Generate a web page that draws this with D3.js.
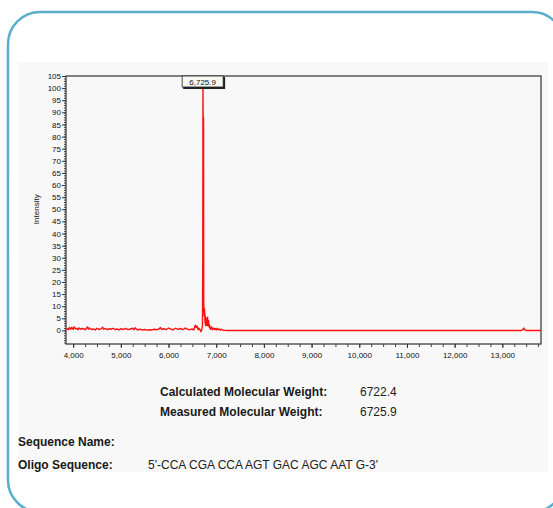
<!DOCTYPE html>
<html>
<head>
<meta charset="utf-8">
<script src="https://cdn.jsdelivr.net/npm/d3@7"></script>
<style>
  body { margin: 0; background: #fff; }
  svg { display: block; font-family: "Liberation Sans", Arial, sans-serif; }
</style>
</head>
<body>
<div id="chart"></div>
<script>
// spectrum (mass in Da, intensity in %)
const masses = [3850, 3880, 3900, 3920, 3950, 3970, 4000, 4020, 4050, 4080, 4100, 4130, 4160, 4200,
  4250, 4300, 4320, 4340, 4380, 4420, 4460, 4500, 4540, 4580, 4620, 4640, 4680, 4720, 4760,
  4800, 4840, 4880, 4920, 4960, 5000, 5050, 5100, 5150, 5200, 5250, 5280, 5300, 5350, 5400,
  5450, 5500, 5550, 5600, 5650, 5700, 5750, 5800, 5830, 5860, 5900, 5950, 6000, 6050, 6100,
  6150, 6200, 6250, 6300, 6350, 6400, 6450, 6500, 6530, 6560, 6580, 6600, 6620, 6640, 6660,
  6680, 6700, 6712, 6718, 6722, 6726, 6730, 6734, 6738, 6742, 6748, 6754, 6760, 6766, 6772,
  6778, 6784, 6790, 6796, 6802, 6808, 6814, 6820, 6826, 6832, 6840, 6848, 6856, 6864, 6872,
  6880, 6900, 6920, 6940, 6960, 6980, 7000, 7020, 7040, 7060, 7080, 7100, 7130, 7160, 7200,
  13400, 13430, 13450, 13470, 13500, 13811];
const intensities = [0.4, 0.8, 0.3, 1.2, 0.5, 1.3, 0.4, 1.5, 0.6, 0.9, 0.3, 1.0, 0.5, 0.8,
  0.3, 1.4, 0.5, 1.0, 0.4, 0.6, 0.2, 0.9, 0.4, 0.6, 1.3, 0.5, 0.8, 0.3, 0.7,
  0.5, 0.9, 0.3, 0.6, 0.2, 0.7, 0.4, 0.8, 0.3, 0.6, 0.9, 0.3, 1.1, 0.2, 0.5,
  0.2, 0.4, 0.1, 0.3, 0.2, 0.5, 0.3, 0.6, 1.2, 0.4, 0.7, 0.3, 1.0, 0.5, 0.3,
  0.9, 0.4, 0.8, 0.3, 1.0, 0.5, 0.3, 0.6, 0.2, 2.2, 1.2, 1.8, 0.4, 0.9, 0.2,
  -0.5, 0.6, 2.0, 30, 100, 88, 50, 88, 12, 8, 6, 9, 7, 3, 6,
  2, 4, 3, 5, 2, 4, 3, 5.5, 2, 3.5, 4, 1.5, 2.5, 1, 1.5,
  0.5, 1.5, 0.3, 1.0, 0.4, 0.8, 0.2, 0.9, 0.3, 0.6, 0.1, 0.5, 0.2, 0.1, 0,
  0, 0.3, 1.0, 0.2, 0, 0];

const peakLabel = "6,725.9";
const peakMass = 6725.9;
const yLabel = "Intensity";

const infoRows = [
  ["Calculated Molecular Weight:", "6722.4"],
  ["Measured Molecular Weight:", "6725.9"]
];
const seqRows = [
  ["Sequence Name:", ""],
  ["Oligo Sequence:", "5'-CCA CGA CCA AGT GAC AGC AAT G-3'"]
];

const width = 553, height = 508;
const svg = d3.select('#chart').append('svg')
  .attr('width', width)
  .attr('height', height);

// card outline
svg.append('rect')
  .attr('x', 8).attr('y', 12)
  .attr('width', 556).attr('height', 500)
  .attr('rx', 32).attr('ry', 32)
  .attr('fill', '#fff')
  .attr('stroke', '#5aaecd')
  .attr('stroke-width', 2.5);

// grey report panel
svg.append('rect')
  .attr('x', 18).attr('y', 62)
  .attr('width', 530).attr('height', 410)
  .attr('fill', '#f8f8f8');

const plot = { left: 66, right: 541, top: 76, bottom: 344 };

const x = d3.scaleLinear()
  .domain([3850, 13811])
  .range([plot.left, plot.right]);
const y = d3.scaleLinear()
  .domain([-5.6, 105])
  .range([plot.bottom, plot.top]);

const tickFont = g => g.selectAll('text')
  .attr('font-size', 8).attr('fill', '#111')
  .attr('font-family', '"Liberation Sans", Arial, sans-serif');

// frame
svg.append('rect')
  .attr('x', plot.left).attr('y', plot.top)
  .attr('width', plot.right - plot.left).attr('height', plot.bottom - plot.top)
  .attr('fill', 'none')
  .attr('stroke', '#333')
  .attr('stroke-width', 1.2);

// y axis, major + minor ticks
const yMinor = d3.range(-5, 106, 1);
svg.append('g')
  .attr('transform', `translate(${plot.left},0)`)
  .call(d3.axisLeft(y).tickValues(yMinor).tickSize(2).tickFormat(''))
  .call(g => g.select('.domain').remove())
  .call(g => g.selectAll('line').attr('stroke', '#444'));
const yMajor = d3.range(0, 106, 5);
svg.append('g')
  .attr('transform', `translate(${plot.left},0)`)
  .call(d3.axisLeft(y).tickValues(yMajor).tickSize(4).tickPadding(1))
  .call(g => g.select('.domain').remove())
  .call(g => g.selectAll('line').attr('stroke', '#333'))
  .call(tickFont);

// x axis
const xMinor = d3.range(4000, 13811, 250);
svg.append('g')
  .attr('transform', `translate(0,${plot.bottom})`)
  .call(d3.axisBottom(x).tickValues(xMinor).tickSize(3).tickFormat(''))
  .call(g => g.select('.domain').remove())
  .call(g => g.selectAll('line').attr('stroke', '#444'));
const xMajor = d3.range(4000, 13001, 1000);
svg.append('g')
  .attr('transform', `translate(0,${plot.bottom})`)
  .call(d3.axisBottom(x).tickValues(xMajor).tickSize(4).tickPadding(4).tickFormat(d3.format(',')))
  .call(g => g.select('.domain').remove())
  .call(g => g.selectAll('line').attr('stroke', '#333'))
  .call(tickFont);

// axis title
svg.append('text')
  .attr('transform', `translate(39,${y(50)}) rotate(-90)`)
  .attr('text-anchor', 'middle')
  .attr('font-size', 8)
  .attr('fill', '#111')
  .text(yLabel);

// spectrum trace
const data = masses.map((m, i) => ({ m, v: intensities[i] }));
svg.append('path')
  .datum(data)
  .attr('fill', 'none')
  .attr('stroke', '#ff1010')
  .attr('stroke-width', 1.4)
  .attr('stroke-linejoin', 'round')
  .attr('d', d3.line().x(d => x(d.m)).y(d => y(d.v)));

// peak label box
const px = x(peakMass);
svg.append('rect')
  .attr('x', px - 20).attr('y', y(105) + 1)
  .attr('width', 42).attr('height', 12)
  .attr('fill', '#222');
svg.append('rect')
  .attr('x', px - 21).attr('y', y(105))
  .attr('width', 41).attr('height', 11)
  .attr('fill', '#f8f8f2')
  .attr('stroke', '#222')
  .attr('stroke-width', 0.8);
svg.append('text')
  .attr('x', px - 0.5).attr('y', y(105) + 8.5)
  .attr('text-anchor', 'middle')
  .attr('font-size', 8)
  .attr('fill', '#111')
  .text(peakLabel);

// molecular weight rows
infoRows.forEach((r, i) => {
  const ty = 396 + i * 20;
  svg.append('text').attr('x', 160).attr('y', ty)
    .attr('font-size', 12).attr('font-weight', 'bold').attr('fill', '#1a1a1a')
    .text(r[0]);
  svg.append('text').attr('x', 360).attr('y', ty)
    .attr('font-size', 12).attr('fill', '#222')
    .text(r[1]);
});

seqRows.forEach((r, i) => {
  const ty = 446 + i * 23;
  svg.append('text').attr('x', 18).attr('y', ty)
    .attr('font-size', 12).attr('font-weight', 'bold').attr('fill', '#1a1a1a')
    .text(r[0]);
  svg.append('text').attr('x', 148).attr('y', ty)
    .attr('font-size', 12).attr('fill', '#222')
    .text(r[1]);
});
</script>
</body>
</html>
